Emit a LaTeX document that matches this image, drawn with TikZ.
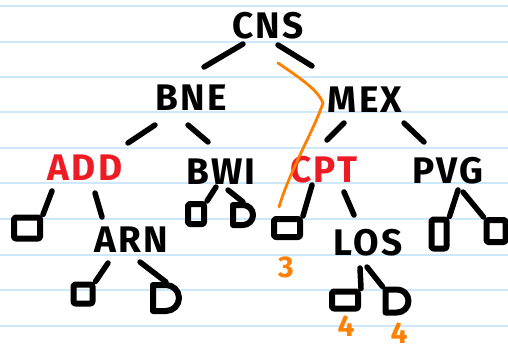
\documentclass[tikz,border=0pt]{standalone}
\usepackage{fontspec}
\setmainfont{Fira Sans}
\newfontfamily\handfont[LetterSpace=6]{Fira Sans}
\usetikzlibrary{calc,shapes.misc}
\definecolor{ruleblue}{RGB}{204,232,250}
\definecolor{mred}{RGB}{237,28,36}
\definecolor{morange}{RGB}{255,127,0}
\tikzset{
  lbl/.style={font=\handfont\bfseries\fontsize{37}{37}\selectfont, inner sep=0pt, text=black},
  redlbl/.style={lbl, text=mred},
  num/.style={font=\bfseries\fontsize{30}{30}\selectfont, inner sep=0pt, text=morange},
  edge/.style={line width=5.5pt, line cap=round, black},
  leaf/.style={draw, line width=6pt, line join=round, rounded corners=2pt, inner sep=0pt},
  dleaf/.style={draw, line width=6pt, line join=round, rounded rectangle, rounded rectangle left arc=none, inner sep=0pt},
  ruled/.style={ruleblue, line width=1.6pt}
}
\begin{document}
\begin{tikzpicture}[x=1pt,y=-1pt]
\useasboundingbox (0,0) rectangle (508,351);
\fill[white] (0,0) rectangle (508,351);
% ruled paper
\foreach \yy in {6,42,77,112,148,183,219,255,290,326}
  \draw[ruled] (0,\yy) -- (508,\yy);

% labels
\node[lbl] (CNS) at (268,26) {CNS};
\node[lbl] (BNE) at (191,98) {BNE};
\node[lbl] (MEX) at (365,100) {MEX};
\node[redlbl] (ADD) at (85,168) {ADD};
\node[lbl] (BWI) at (221,172) {BWI};
\node[redlbl] (CPT) at (324,170) {CPT};
\node[lbl] (PVG) at (448,171) {PVG};
\node[lbl] (ARN) at (131,240) {ARN};
\node[lbl] (LOS) at (368,243) {LOS};

% leaves
\node[leaf, minimum width=26pt, minimum height=21pt] (L1) at (27,228) {};
\node[leaf, minimum width=16pt, minimum height=20pt] (L2) at (196,214) {};
\node[dleaf, minimum width=20pt, minimum height=20pt] (L3) at (243,215) {};
\node[leaf, minimum width=19pt, minimum height=19pt] (L4) at (83,294) {};
\node[dleaf, minimum width=24pt, minimum height=26pt] (L5) at (166,298) {};
\node[leaf, minimum width=26pt, minimum height=18pt] (L6) at (287,228) {};
\node[leaf, minimum width=15pt, minimum height=29pt] (L7) at (439,234) {};
\node[leaf, minimum width=19pt, minimum height=22pt] (L8) at (496,231) {};
\node[leaf, minimum width=26pt, minimum height=17pt] (L9) at (345,300) {};
\node[dleaf, minimum width=22pt, minimum height=23pt] (L10) at (397,301) {};

% connectors
\draw[edge] ($(CNS)+(-25,18)$) -- ($(BNE)+(13,-31)$);
\draw[edge] ($(CNS)+(10,19)$) -- ($(MEX)+(-53,-34)$);
\draw[edge] ($(BNE)+(-36,27)$) -- ($(ADD)+(43,-25)$);
\draw[edge] ($(BNE)+(-3,27)$) -- ($(BWI)+(-13,-30)$);
\draw[edge] ($(MEX)+(-21,23)$) -- ($(CPT)+(3,-30)$);
\draw[edge] ($(MEX)+(39,23)$) -- ($(PVG)+(-24,-29)$);
\draw[edge] ($(ADD)+(-33,23)$) -- (L1.north east);
\draw[edge] ($(ADD)+(10,25)$) -- ($(ARN)+(-29,-23)$);
\draw[edge] ($(BWI)+(-5,15)$) -- (L2.north east);
\draw[edge] ($(BWI)+(7,18)$) -- (L3.north);
\draw[edge] ($(ARN)+(-23,23)$) -- (L4.north east);
\draw[edge] ($(ARN)+(9,22)$) -- (L5.north);
\draw[edge] ($(CPT)+(-12,15)$) -- (L6.north east);
\draw[edge] ($(CPT)+(20,22)$) -- ($(LOS)+(-14,-28)$);
\draw[edge] ($(PVG)+(10,19)$) -- (L7.north east);
\draw[edge] ($(PVG)+(15,21)$) -- (L8.north west);
\draw[edge] ($(LOS)+(-8,25)$) -- (L9.north east);
\draw[edge] ($(LOS)+(-1,24)$) -- (L10.north west);

% orange annotations
\coordinate (ostart) at (278,63);
\coordinate (obend) at (323,103);
\coordinate (oend) at (279,207);
\draw[morange, line width=2.8pt, line cap=round, line join=round]
  (ostart) .. controls (300,78) and (318,90) .. (obend)
  .. controls (314,130) and (290,170) .. (oend);
\node[num] (n3) at (286,267) {3};
\node[num] (n4a) at (346,326) {4};
\node[num] (n4b) at (399,333) {4};
\end{tikzpicture}
\end{document}
